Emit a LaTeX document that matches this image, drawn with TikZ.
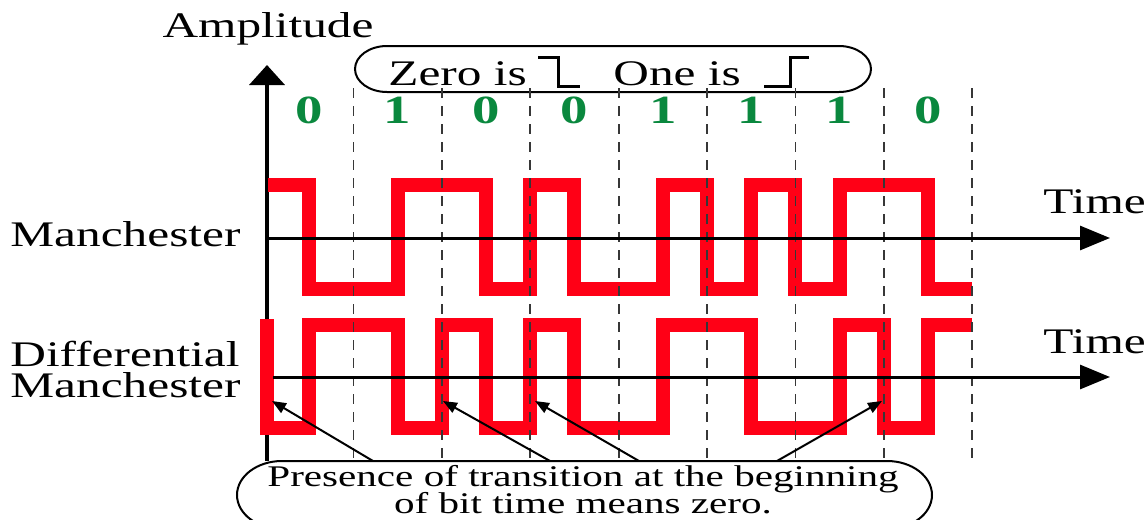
\documentclass[tikz,border=0pt]{standalone}
\usepackage{fontspec}
\setmainfont{Liberation Serif}
\usepackage{graphicx}
\usepackage{xcolor}
\usepackage{tikz}
\usetikzlibrary{arrows.meta}
\definecolor{RedSignal}{RGB}{255,0,22}
\definecolor{GreenBit}{RGB}{10,136,62}
\definecolor{GrayDash}{RGB}{55,55,55}
\newcommand{\wide}[1]{\scalebox{1.37}[1]{#1}}

\begin{document}
\begin{tikzpicture}[x=0.5pt,y=-0.5pt,
  lbl/.style={inner sep=0pt,font=\fontsize{18}{18}\selectfont},
  notelbl/.style={inner sep=0pt,font=\fontsize{15}{15}\selectfont},
  bitlbl/.style={inner sep=0pt,text=GreenBit,font=\fontsize{20}{20}\selectfont\bfseries},
  wave/.style={draw=RedSignal,line width=7pt,line join=miter},
  bitline/.style={draw=GrayDash,dash pattern=on 5pt off 4pt,line width=0.9pt},
  axis/.style={line width=1.5pt,-{Triangle[length=15pt,width=12pt]}},
  frame/.style={line width=1pt},
  pointer/.style={line width=1pt,-{Triangle[length=7pt,width=5.5pt]}}]
  \useasboundingbox (0,0) rectangle (1148,520);

  % amplitude axis
  \coordinate (origin) at (267,461);
  \coordinate (ytop) at (267,65);
  \draw[line width=2pt,-{Triangle[length=10pt,width=17.5pt]}] (origin) -- (ytop);
  \node[lbl,anchor=base] (amp) at (268,37) {\wide{Amplitude}};

  % legend
  \draw[frame] (387,46) -- (839,46) arc[start angle=-90,end angle=90,x radius=32,y radius=23]
    -- (387,92) arc[start angle=90,end angle=270,x radius=32,y radius=23] -- cycle;
  \node[lbl,anchor=base west] (zero) at (388,85) {\wide{Zero is}};
  \node[lbl,anchor=base west] (one) at (613,85) {\wide{One is}};
  \draw[line width=1.5pt] (538,57) -| (558,86) -- (580,86);
  \draw[line width=1.5pt] (764,86) -| (790,57) -- (809,57);

  % bits, signals and bit boundaries
  \begin{scope}[shift={(265,0)},xscale=88.4]
    \foreach \b [count=\i from 0] in {0,1,0,0,1,1,1,0}
      \node[bitlbl] (bit\i) at (\i+0.5,110) {\wide{\b}};
    \draw[wave] (0.03,185) -| (0.5,289) -| (1.5,185) -| (2.5,289) -| (3,185) -| (3.5,289)
      -| (4.5,185) -| (5,289) -| (5.5,185) -| (6,289) -| (6.5,185) -| (7.5,289) -- (8,289);
    \draw[wave] (0.02,319) -- (0.02,428) -| (0.5,325) -| (1.5,428) -| (2,325) -| (2.5,428)
      -| (3,325) -| (3.5,428) -| (4.5,325) -| (5.5,428) -| (6.5,325) -| (7,428) -| (7.5,325) -- (8,325);
    \foreach \i in {1,...,8}
      \draw[bitline] (\i,88) -- (\i,461);
  \end{scope}

  % time axes
  \coordinate (mstart) at (269,238);
  \coordinate (mend) at (1110,238);
  \coordinate (dstart) at (273,377);
  \coordinate (dend) at (1110,377);
  \draw[axis] (mstart) -- (mend);
  \draw[axis] (dstart) -- (dend);
  \node[lbl,anchor=base west] (time1) at (1043,213) {\wide{Time}};
  \node[lbl,anchor=base west] (time2) at (1043,353) {\wide{Time}};
  \node[lbl,anchor=base west] (man) at (10,246) {\wide{Manchester}};
  \node[lbl,anchor=base west] (diff) at (10,366) {\wide{Differential}};
  \node[lbl,anchor=base west] (diffman) at (10,397) {\wide{Manchester}};

  % note
  \draw[frame] (282,461) -- (887,461) arc[start angle=-90,end angle=90,x radius=45,y radius=34]
    -- (282,529) arc[start angle=90,end angle=270,x radius=45,y radius=34] -- cycle;
  \node[notelbl,anchor=base] (note) at (583,486) {\wide{Presence of transition at the beginning}};
  \node[notelbl,anchor=base] (notebot) at (583,513) {\wide{of bit time means zero.}};
  \foreach \t/\h [count=\k] in {373/272,550/443,639/535,777/882}{
    \coordinate (tail\k) at (\t,461);
    \coordinate (tip\k) at (\h,401);
    \draw[pointer] (tail\k) -- (tip\k);
  }
\end{tikzpicture}
\end{document}
